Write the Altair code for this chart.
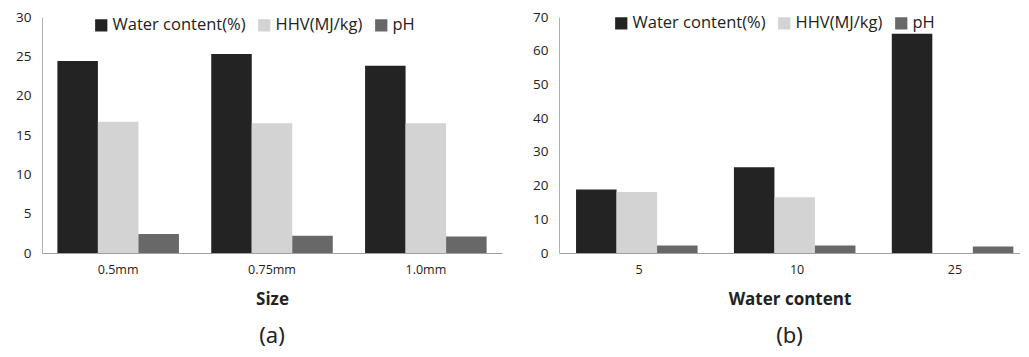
import altair as alt
import pandas as pd

series = ["Water content(%)", "HHV(MJ/kg)", "pH"]
colors = ["#232323", "#d3d3d3", "#686868"]

sizes = ["0.5mm", "0.75mm", "1.0mm"]
size_water = [24.4, 25.3, 23.8]
size_hhv = [16.7, 16.5, 16.5]
size_ph = [2.4, 2.2, 2.1]

wc = ["5", "10", "25"]
wc_water = [18.8, 25.4, 65.0]
wc_hhv = [18.1, 16.5, None]
wc_ph = [2.2, 2.2, 1.9]


def table(cats, vals):
    rows = []
    for i, c in enumerate(cats):
        for s, v in zip(series, vals):
            if v[i] is not None:
                rows.append({"cat": c, "series": s, "value": v[i]})
    return pd.DataFrame(rows)


df_a = table(sizes, [size_water, size_hhv, size_ph])
df_b = table(wc, [wc_water, wc_hhv, wc_ph])

FONT = "Open Sans"


def panel(df, cats, xtitle, ymax, ystep, w, h, caption, po, pi, al, lx, ly):
    return alt.Chart(df).mark_bar().encode(
        x=alt.X("cat:N", sort=cats, title=xtitle,
                scale=alt.Scale(paddingInner=pi, paddingOuter=po, align=al),
                axis=alt.Axis(labelAngle=0, ticks=False, domainColor="#a0a0a0",
                              labelFont=FONT, labelFontSize=12.5, labelColor="#222",
                              labelPadding=10, titleFont=FONT, titleFontSize=17,
                              titleFontWeight="bold", titleColor="#222",
                              titlePadding=16)),
        xOffset=alt.XOffset("series:N", sort=series),
        y=alt.Y("value:Q", title=None,
                scale=alt.Scale(domain=[0, ymax], nice=False),
                axis=alt.Axis(values=list(range(0, ymax + 1, ystep)), ticks=False,
                              grid=False, domainColor="#b0b0b0", labelFont=FONT,
                              labelFontSize=13.5, labelColor="#222", labelPadding=11)),
        color=alt.Color("series:N", sort=series,
                        scale=alt.Scale(domain=series, range=colors),
                        legend=alt.Legend(title=None, orient="none", direction="horizontal",
                                          legendX=lx, legendY=ly, symbolType="square",
                                          symbolSize=150, symbolStrokeWidth=0,
                                          labelFont=FONT, labelFontSize=16.5,
                                          labelColor="#222", columnPadding=10,
                                          labelOffset=3)),
    ).properties(
        width=w, height=h,
        title=alt.TitleParams(caption, orient="bottom", fontSize=22, font="Noto Sans",
                              fontWeight="normal", color="#222", offset=18),
    )


a = panel(df_a, sizes, "Size", 30, 5, 460, 236, "(a)", 0.1, 0.21, 0.5, 51, 0)
b = panel(df_b, wc, "Water content", 70, 10, 461, 236, "(b)", 0.06, 0.2, 0.9, 54, -2)

chart = alt.hconcat(a, b, spacing=30).resolve_scale(
    color="independent", y="independent", x="independent"
).resolve_legend(color="independent").configure_view(stroke=None).properties(
    padding={"left": 7, "top": 2, "right": 0, "bottom": 0}
)

chart.save("out.html", embed_options={"renderer": "svg", "actions": False})
